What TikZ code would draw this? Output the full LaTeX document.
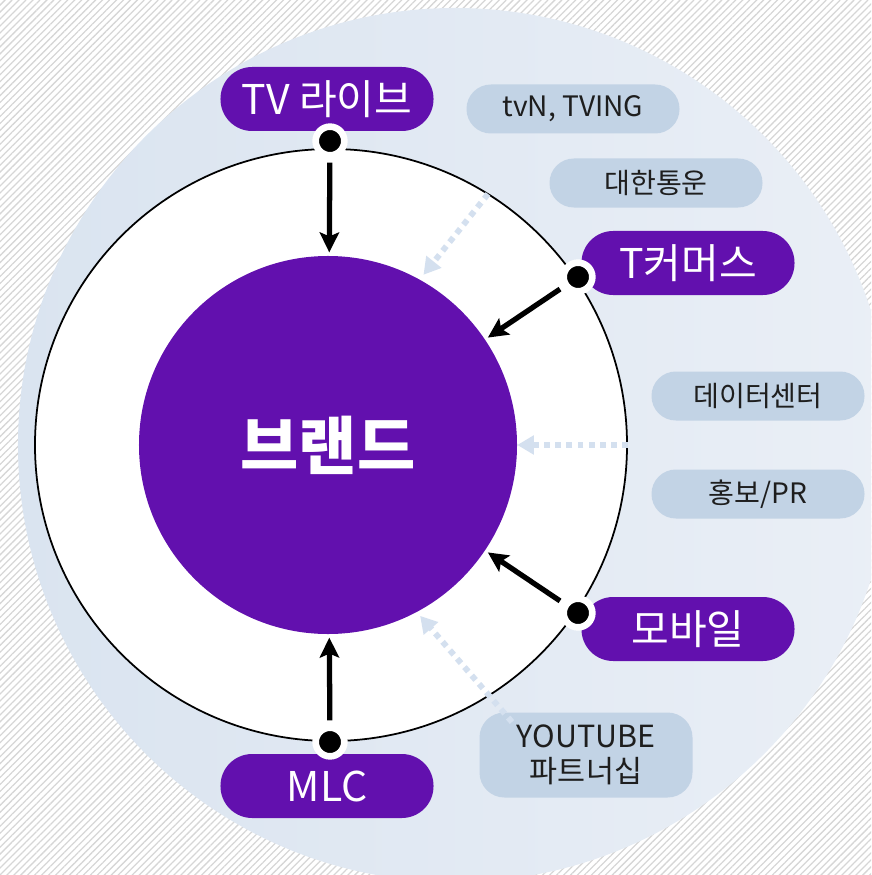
\documentclass[tikz,border=0pt]{standalone}
\usepackage{fontspec}
\setmainfont{Noto Sans CJK KR}
\usetikzlibrary{arrows.meta,patterns.meta}
\definecolor{brandpurple}{RGB}{98,16,174}
\definecolor{ringbg}{RGB}{218,228,240}
\definecolor{ringbgb}{RGB}{234,239,246}
\definecolor{pillblue}{RGB}{194,211,229}
\definecolor{dotblue}{RGB}{212,224,239}
\definecolor{pilltext}{RGB}{30,30,30}
\begin{document}
\begin{tikzpicture}[x=0.03cm,y=-0.03cm,
    mainpill/.style={rectangle,rounded corners=0.95cm,fill=brandpurple,text=white,
      minimum width=6.39cm,minimum height=1.92cm,font=\fontsize{35}{40}\selectfont},
    subpill/.style={rectangle,rounded corners=0.73cm,fill=pillblue,text=pilltext,
      minimum width=6.39cm,minimum height=1.47cm,font=\fontsize{24}{29}\selectfont},
    joint/.style={circle,fill=black,draw=white,line width=0.2cm,minimum size=0.86cm,inner sep=0pt},
    feed/.style={line width=4.5pt,shorten <=0.12cm,shorten >=0.1cm,
      -{Stealth[length=0.6cm,width=0.58cm,inset=0.12cm]}},
    weak/.style={dotblue,line width=5pt,dash pattern=on 5pt off 4.5pt,
      -{Triangle[length=0.5cm,width=0.55cm]}}]
  \useasboundingbox (0,0) rectangle (871,875);
  \clip (0,0) rectangle (871,875);
  % backdrop
  \fill[pattern={Lines[angle=45,distance=4.2pt,line width=1.1pt]},pattern color=black!16] (0,0) rectangle (871,875);
  \shade[left color=ringbg,right color=ringbgb] (455,445) circle[radius=13.11cm];
  \node[circle,draw=black,line width=1.5pt,fill=white,minimum size=17.76cm,inner sep=0pt] (ring) at (331,445) {};
  \node[circle,fill=brandpurple,minimum size=11.34cm,inner sep=0pt,text=white,
    font=\fontsize{54}{60}\bfseries\selectfont] (brand) at (328,445) {브랜드};
  % partners
  \node[subpill] (tving) at (573,109) {tvN, TVING};
  \node[subpill] (cj) at (656,183) {대한통운};
  \node[subpill] (datacenter) at (758,396) {데이터센터};
  \node[subpill] (pr) at (758,494) {홍보/PR};
  \node[subpill,minimum height=2.55cm,rounded corners=0.75cm,align=center,
    font=\fontsize{26}{30}\selectfont] (youtube) at (586,755) {YOUTUBE\\파트너십};
  \coordinate (wcj) at (488,194);
  \coordinate (wyt) at (512,722);
  \draw[weak,shorten >=0.18cm] (wcj) -- (brand.61);
  \draw[weak] (ring.east) -- (brand.east);
  \draw[weak,shorten >=0.15cm] (wyt) -- (brand.-62);
  % channels
  \node[mainpill] (tvlive) at (327,99) {TV 라이브};
  \node[mainpill] (tcommerce) at (688,263) {T커머스};
  \node[mainpill] (mobile) at (688,629) {모바일};
  \node[mainpill] (mlc) at (327,786) {MLC};
  \node[joint] (jtv) at (330,141) {};
  \node[joint] (jtc) at (578,277) {};
  \node[joint] (jmo) at (578,613) {};
  \node[joint] (jmlc) at (330,742) {};
  \draw[feed] (jtv) -- (brand);
  \draw[feed] (jtc) -- (brand);
  \draw[feed] (jmo) -- (brand);
  \draw[feed] (jmlc) -- (brand);
\end{tikzpicture}
\end{document}
